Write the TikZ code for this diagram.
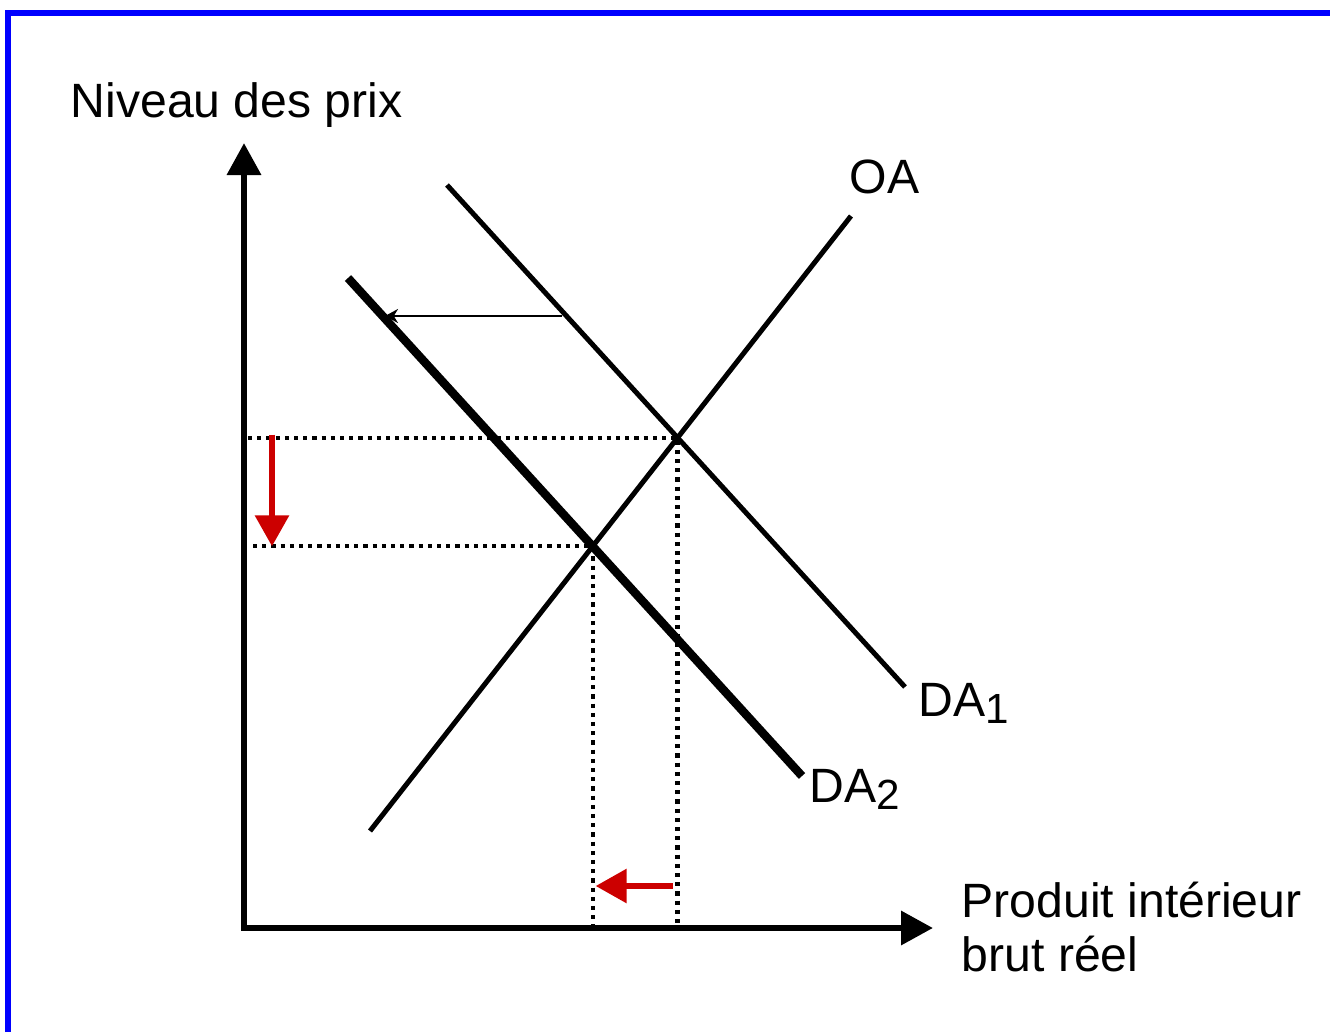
\documentclass[tikz,border=0pt]{standalone}
\usepackage{fontspec}
\setmainfont{Liberation Sans}
\usetikzlibrary{arrows.meta,intersections}
\definecolor{shiftred}{RGB}{204,0,0}
\newcommand{\lowidx}[1]{\raisebox{-0.07cm}{\fontsize{12}{14}\selectfont #1}}

\begin{document}
\begin{tikzpicture}[font=\fontsize{13.7}{15.6}\selectfont,
    axis/.style={line width=0.065cm,{Triangle[length=0.32cm,width=0.33cm]}-{Triangle[length=0.32cm,width=0.33cm]}},
    curve/.style={line width=0.05cm},
    guide/.style={line width=0.042cm,dash pattern=on 0.042cm off 0.05cm},
    shiftarrow/.style={line width=0.06cm,shiftred,-{Triangle[length=0.31cm,width=0.33cm]}},
    lbl/.style={inner sep=0pt,anchor=base west}]
	\useasboundingbox (0,0) rectangle (13.30,10.32);
	% frame
	\draw[blue,line width=0.06cm] (0.08,0) -- (0.08,10.19) -- (13.30,10.19);
	% axes
	\coordinate (O) at (2.44,1.04);
	\coordinate (ytip) at (2.44,8.89);
	\coordinate (xtip) at (9.33,1.04);
	\draw[axis] (ytip) -- (O) -- (xtip);
	\node[lbl] (ylabel) at (0.70,9.15) {Niveau des prix};
	\node[lbl] (xlabel) at (9.61,1.15) {Produit intérieur};
	\node[lbl] (xlabel2) at (9.61,0.61) {brut réel};
	% curves
	\coordinate (oa0) at (3.70,2.01);
	\coordinate (oa1) at (8.51,8.16);
	\coordinate (da10) at (4.47,8.47);
	\coordinate (da11) at (9.05,3.45);
	\coordinate (da20) at (3.48,7.54);
	\coordinate (da21) at (8.02,2.56);
	\draw[curve,name path=oa] (oa0) -- (oa1);
	\draw[curve,name path=da1] (da10) -- (da11);
	\draw[curve,line width=0.085cm,name path=da2] (da20) -- (da21);
	\node[lbl] (oalabel) at (8.49,8.39) {OA};
	\node[lbl] (da1label) at (9.18,3.16) {DA\lowidx{1}};
	\node[lbl] (da2label) at (8.09,2.30) {DA\lowidx{2}};
	% equilibria
	\path[name intersections={of=oa and da1,by=E1}];
	\path[name intersections={of=oa and da2,by=E2}];
	\draw[guide] ([xshift=0.04cm]O |- E1) -- (E1) -- (E1 |- O);
	\draw[guide] ([xshift=0.09cm]O |- E2) -- (E2) -- (E2 |- O);
	% shifts
	\coordinate (dfrom) at (5.62,7.16);
	\coordinate (dto) at (3.85,7.16);
	\draw[line width=0.02cm,-{Stealth[length=0.13cm,width=0.14cm]}] (dfrom) -- (dto);
	\draw[shiftarrow] ([xshift=0.28cm,yshift=0.03cm]O |- E1) -- ([xshift=0.28cm]O |- E2);
	\draw[shiftarrow] ([xshift=-0.05cm,yshift=0.42cm]E1 |- O) -- ([xshift=0.03cm,yshift=0.42cm]E2 |- O);
\end{tikzpicture}
\end{document}
